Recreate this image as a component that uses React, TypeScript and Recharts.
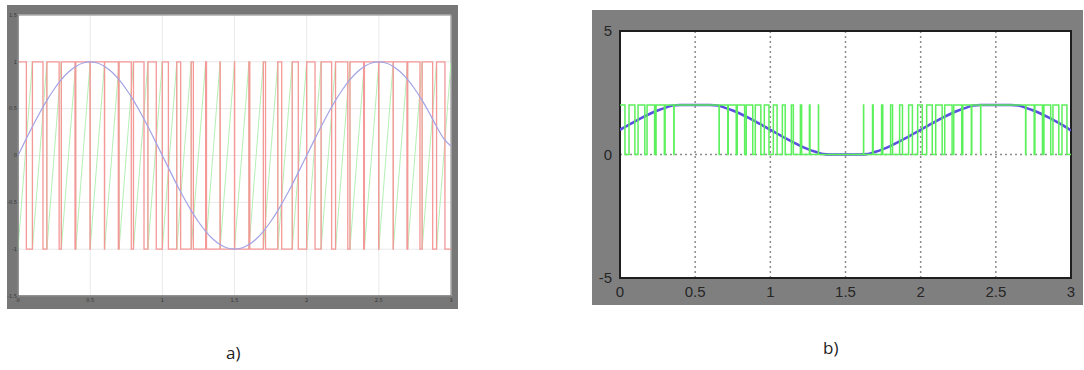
import React from 'react';
import { LineChart, Line, XAxis, YAxis, CartesianGrid, ReferenceArea } from 'recharts';

// shared time axis (0 .. 3, step 0.05)
const times = [
  0, 0.05, 0.1, 0.15, 0.2, 0.25, 0.3, 0.35, 0.4, 0.45, 0.5, 0.55, 0.6, 0.65, 0.7, 0.75, 0.8, 0.85, 0.9, 0.95,
  1, 1.05, 1.1, 1.15, 1.2, 1.25, 1.3, 1.35, 1.4, 1.45, 1.5, 1.55, 1.6, 1.65, 1.7, 1.75, 1.8, 1.85, 1.9, 1.95,
  2, 2.05, 2.1, 2.15, 2.2, 2.25, 2.3, 2.35, 2.4, 2.45, 2.5, 2.55, 2.6, 2.65, 2.7, 2.75, 2.8, 2.85, 2.9, 2.95, 3,
];

// a) reference sine, sawtooth carrier and PWM output
const xTicks = [0, 0.5, 1, 1.5, 2, 2.5, 3];
const yTicksA = [-1.5, -1, -0.5, 0, 0.5, 1, 1.5];
const sineA = [
  0, 0.156, 0.309, 0.454, 0.588, 0.707, 0.809, 0.891, 0.951, 0.988, 1, 0.988, 0.951, 0.891, 0.809, 0.707, 0.588, 0.454, 0.309, 0.156,
  0, -0.156, -0.309, -0.454, -0.588, -0.707, -0.809, -0.891, -0.951, -0.988, -1, -0.988, -0.951, -0.891, -0.809, -0.707, -0.588, -0.454, -0.309, -0.156,
  0, 0.156, 0.309, 0.454, 0.588, 0.707, 0.809, 0.891, 0.951, 0.988, 1, 0.988, 0.951, 0.891, 0.809, 0.707, 0.588, 0.454, 0.309, 0.18, 0.1,
];
const sawStartsA = [
  0, 0.1, 0.2, 0.3, 0.4, 0.5, 0.6, 0.7, 0.8, 0.9, 1, 1.1, 1.2, 1.3, 1.4, 1.5,
  1.6, 1.7, 1.8, 1.9, 2, 2.1, 2.2, 2.3, 2.4, 2.5, 2.6, 2.7, 2.8, 2.9, 3,
];
// switching instants, output starts high
const pwmEdgesA = [
  0, 0.058, 0.1, 0.173, 0.2, 0.285, 0.3, 0.395, 0.4, 0.499, 0.5, 0.599, 0.6, 0.695, 0.7, 0.785,
  0.8, 0.873, 0.9, 0.958, 1, 1.042, 1.1, 1.127, 1.2, 1.215, 1.3, 1.306, 1.4, 1.401, 1.5, 1.501,
  1.6, 1.606, 1.7, 1.715, 1.8, 1.827, 1.9, 1.942, 2, 2.058, 2.1, 2.173, 2.2, 2.285, 2.3, 2.395,
  2.4, 2.499, 2.5, 2.599, 2.6, 2.695, 2.7, 2.785, 2.8, 2.873, 2.9, 2.958,
];

// b) offset reference and unipolar PWM
const yTicksB = [-5, 0, 5];
const refB = [
  1, 1.17, 1.34, 1.5, 1.65, 1.78, 1.89, 1.98, 2, 2, 2, 2, 2, 1.98, 1.89, 1.78, 1.65, 1.5, 1.34, 1.17,
  1, 0.83, 0.66, 0.5, 0.35, 0.22, 0.11, 0.02, 0, 0, 0, 0, 0, 0.02, 0.11, 0.22, 0.35, 0.5, 0.66, 0.83,
  1, 1.17, 1.34, 1.5, 1.65, 1.78, 1.89, 1.98, 2, 2, 2, 2, 2, 1.98, 1.89, 1.78, 1.65, 1.5, 1.34, 1.17, 0.97,
];
const pwmEdgesB = [
  0, 0.033, 0.06, 0.099, 0.12, 0.165, 0.18, 0.23, 0.24, 0.295, 0.3, 0.358, 0.36, 0.659,
  0.66, 0.717, 0.72, 0.773, 0.78, 0.829, 0.84, 0.883, 0.9, 0.937, 0.96, 0.991, 1.02, 1.045,
  1.08, 1.099, 1.14, 1.153, 1.2, 1.208, 1.26, 1.264, 1.32, 1.321, 1.62, 1.621, 1.68, 1.684,
  1.74, 1.748, 1.8, 1.813, 1.86, 1.879, 1.92, 1.945, 1.98, 2.011, 2.04, 2.077, 2.1, 2.143,
  2.16, 2.209, 2.22, 2.273, 2.28, 2.337, 2.34, 2.399, 2.4, 2.698, 2.7, 2.755, 2.76, 2.81,
  2.82, 2.865, 2.88, 2.919, 2.94, 2.973,
];

const toSteps = (edges: number[], hi: number, lo: number) => {
  const pts = edges.map((t, i) => ({ t, v: i % 2 === 0 ? hi : lo }));
  pts.push({ t: 3, v: edges.length % 2 === 0 ? lo : hi });
  return pts;
};

const sineDataA = times.map((t, i) => ({ t, v: sineA[i] }));
const refDataB = times.map((t, i) => ({ t, v: refB[i] }));
const sawDataA = sawStartsA.slice(0, -1).flatMap((t, i) => [
  { t, v: -1 },
  { t: sawStartsA[i + 1], v: 1 },
]);
const pwmDataA = toSteps(pwmEdgesA, 1, -1);
const pwmDataB = toSteps(pwmEdgesB, 2, 0);

const tinyTick = { fontSize: 5, fill: '#333', fontFamily: 'DejaVu Sans' };
const bigTick = { fontSize: 15, fill: '#262626', fontFamily: 'Liberation Sans' };

const PanelA = () => (
  <LineChart width={451} height={304} margin={{ top: 10, right: 7, left: 0, bottom: 0 }}>
    <CartesianGrid stroke="#e9e9e9" fill="#fff" />
    <XAxis
      type="number"
      dataKey="t"
      domain={[0, 3]}
      ticks={xTicks}
      allowDataOverflow
      height={13}
      tickSize={0}
      tickMargin={2}
      tickLine={false}
      axisLine={{ stroke: '#666' }}
      tick={tinyTick}
    />
    <YAxis
      type="number"
      domain={[-1.5, 1.5]}
      ticks={yTicksA}
      allowDataOverflow
      width={11}
      tickSize={0}
      tickMargin={1}
      tickLine={false}
      axisLine={{ stroke: '#666' }}
      tick={tinyTick}
    />
    <Line data={sawDataA} dataKey="v" type="linear" stroke="#b4f0b4" strokeWidth={1} dot={false} activeDot={false} isAnimationActive={false} />
    <Line data={pwmDataA} dataKey="v" type="stepAfter" stroke="#f59898" strokeWidth={1.3} dot={false} activeDot={false} isAnimationActive={false} />
    <Line data={sineDataA} dataKey="v" type="monotone" stroke="#a3a3e6" strokeWidth={1.2} dot={false} activeDot={false} isAnimationActive={false} />
    <ReferenceArea x1={0} x2={3} y1={-1.5} y2={1.5} fill="none" stroke="#8a8a8a" strokeWidth={1} />
  </LineChart>
);

const PanelB = () => (
  <LineChart width={491} height={295} margin={{ top: 21, right: 12, left: 0, bottom: 0 }}>
    <CartesianGrid stroke="#8c8c8c" strokeDasharray="2 3" strokeWidth={1.5} fill="#fff" />
    <XAxis
      type="number"
      dataKey="t"
      domain={[0, 3]}
      ticks={xTicks}
      allowDataOverflow
      height={27}
      tickLine={false}
      axisLine={false}
      tick={bigTick}
    />
    <YAxis
      type="number"
      domain={[-5, 5]}
      ticks={yTicksB}
      allowDataOverflow
      width={28}
      tickLine={false}
      axisLine={false}
      tick={bigTick}
    />
    <Line data={refDataB} dataKey="v" type="monotone" stroke="#5a50e0" strokeWidth={2.5} dot={false} activeDot={false} isAnimationActive={false} />
    <Line data={pwmDataB} dataKey="v" type="stepAfter" stroke="#5cf05c" strokeWidth={1.5} dot={false} activeDot={false} isAnimationActive={false} />
    <ReferenceArea x1={0} x2={3} y1={-5} y2={5} fill="none" stroke="#1e1e1e" strokeWidth={2} />
  </LineChart>
);

export default function App() {
  return (
    <div style={{ position: 'absolute', left: 0, top: 0, width: 1084, height: 370, background: '#fff' }}>
      <div style={{ position: 'absolute', left: 7, top: 5, width: 451, height: 304, background: '#777' }}>
        <PanelA />
      </div>
      <div style={{ position: 'absolute', left: 592, top: 10, width: 491, height: 295, background: '#7f7f7f' }}>
        <PanelB />
      </div>
      <div style={{ position: 'absolute', left: 226, top: 341, fontSize: 17, fontFamily: 'Open Sans', color: '#222' }}>a)</div>
      <div style={{ position: 'absolute', left: 823, top: 336, fontSize: 17, fontFamily: 'Open Sans', color: '#222' }}>b)</div>
    </div>
  );
}
